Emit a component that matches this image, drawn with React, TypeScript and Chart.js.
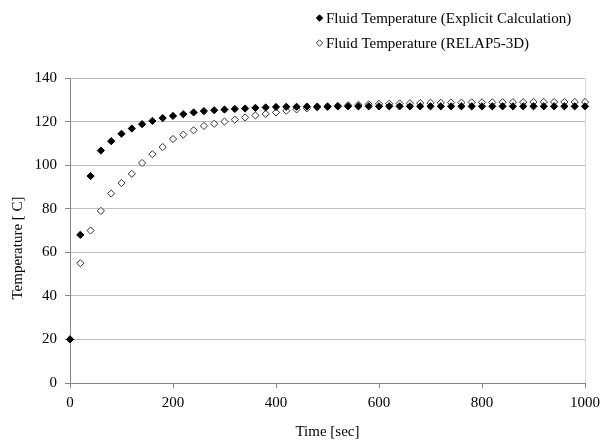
import React, { useEffect, useRef } from "react";
import { Chart, registerables } from "chart.js";

Chart.register(...registerables);

const times: number[] = [
  0, 20, 40, 60, 80, 100, 120, 140, 160, 180, 200, 220, 240, 260, 280, 300, 320, 340, 360, 380,
  400, 420, 440, 460, 480, 500, 520, 540, 560, 580, 600, 620, 640, 660, 680, 700, 720, 740, 760, 780,
  800, 820, 840, 860, 880, 900, 920, 940, 960, 980, 1000,
];

const explicitTemp: number[] = [
  20, 68, 95, 106.7, 111, 114.4, 116.8, 118.8, 120.3, 121.6, 122.6, 123.4, 124.2, 124.8, 125.2, 125.5, 125.8, 126, 126.3, 126.5,
  126.7, 126.8, 126.8, 126.9, 126.9, 126.9, 127, 127, 127, 127, 127, 127, 127, 127, 127, 127, 127, 127, 127, 127,
  127, 127, 127, 127, 127, 127, 127, 127, 127, 127, 127,
];

const relapTemp: number[] = [
  20, 55, 70, 79, 87, 91.8, 96, 101, 105, 108.3, 112, 114, 116, 118, 119, 120, 120.9, 121.9, 122.8, 123.5,
  124.2, 125, 125.6, 126.1, 126.5, 126.9, 127.2, 127.5, 127.7, 127.9, 128.1, 128.2, 128.3, 128.4, 128.5, 128.6, 128.6, 128.7, 128.7, 128.8,
  128.8, 128.8, 128.9, 128.9, 128.9, 129, 129, 129, 129, 129, 129,
];

const seriesNames: string[] = [
  "Fluid Temperature (Explicit Calculation)",
  "Fluid Temperature (RELAP5-3D)",
];

const xTitle = "Time [sec]";
const yTitle = "Temperature [ C]";

const FONT = '"Liberation Serif", "Times New Roman", serif';

export default function App() {
  const ref = useRef<HTMLCanvasElement | null>(null);

  useEffect(() => {
    if (!ref.current) return;

    const overlay = {
      id: "overlay",
      afterDraw(chart: any) {
        const ctx = chart.ctx;
        ctx.save();
        ctx.font = `15px ${FONT}`;
        ctx.fillStyle = "#000";
        ctx.textAlign = "center";
        ctx.textBaseline = "middle";
        ctx.translate(18, 248);
        ctx.rotate(-Math.PI / 2);
        ctx.fillText(yTitle, 0, 0);
        ctx.restore();

        ctx.save();
        ctx.font = `15px ${FONT}`;
        ctx.textAlign = "left";
        ctx.textBaseline = "middle";
        const rows = [18, 43];
        seriesNames.forEach((name, i) => {
          const y = rows[i];
          const x = 319.5;
          const r = 3.2;
          ctx.beginPath();
          ctx.moveTo(x, y - r);
          ctx.lineTo(x + r, y);
          ctx.lineTo(x, y + r);
          ctx.lineTo(x - r, y);
          ctx.closePath();
          ctx.lineWidth = 1;
          if (i === 0) {
            ctx.fillStyle = "#000";
            ctx.fill();
            ctx.strokeStyle = "#000";
            ctx.stroke();
          } else {
            ctx.fillStyle = "#fff";
            ctx.fill();
            ctx.strokeStyle = "#333";
            ctx.stroke();
          }
          ctx.fillStyle = "#000";
          ctx.fillText(name, 326, y + 1);
        });
        ctx.restore();
      },
    };

    const chart = new Chart(ref.current, {
      type: "scatter",
      data: {
        datasets: [
          {
            label: seriesNames[0],
            data: times.map((t, i) => ({ x: t, y: explicitTemp[i] })),
            pointStyle: "rectRot",
            pointRadius: 3.6,
            backgroundColor: "#000",
            borderColor: "#000",
            borderWidth: 1,
            showLine: false,
            clip: false,
          },
          {
            label: seriesNames[1],
            data: times.map((t, i) => ({ x: t, y: relapTemp[i] })),
            pointStyle: "rectRot",
            pointRadius: 3.6,
            backgroundColor: "#fff",
            borderColor: "#333",
            borderWidth: 1,
            showLine: false,
            clip: false,
          },
        ],
      },
      options: {
        responsive: false,
        animation: false,
        layout: { padding: { top: 78, right: 23, left: 0, bottom: 0 } },
        plugins: {
          legend: { display: false },
          tooltip: { enabled: false },
        },
        scales: {
          x: {
            type: "linear",
            min: 0,
            max: 1000,
            afterFit: (s: any) => {
              s.height = 58;
            },
            ticks: {
              stepSize: 200,
              color: "#000",
              font: { family: FONT, size: 15 },
              padding: 6,
              maxRotation: 0,
              callback: (v: any) => String(v),
            },
            grid: {
              color: (c: any) => (c.tick && c.tick.value === 1000 ? "#d9d9d9" : "rgba(0,0,0,0)"),
              tickColor: "#868686",
              tickLength: 5,
            },
            border: { color: "#868686", width: 1 },
            title: {
              display: true,
              text: xTitle,
              color: "#000",
              font: { family: FONT, size: 15 },
              padding: { top: 0, bottom: 0 },
            },
          },
          y: {
            type: "linear",
            min: 0,
            max: 140,
            afterFit: (s: any) => {
              s.width = 70;
            },
            ticks: {
              stepSize: 20,
              color: "#000",
              font: { family: FONT, size: 15 },
              padding: 8,
              callback: (v: any) => String(v),
            },
            grid: {
              color: "#bfbfbf",
              tickColor: "#868686",
              tickLength: 5,
            },
            border: { color: "#868686", width: 1 },
          },
        },
      },
      plugins: [overlay],
    });

    return () => chart.destroy();
  }, []);

  return (
    <div style={{ position: "absolute", left: 0, top: 0, width: 608, height: 441, background: "#fff" }}>
      <canvas ref={ref} width={608} height={441} style={{ width: 608, height: 441, display: "block" }} />
    </div>
  );
}
